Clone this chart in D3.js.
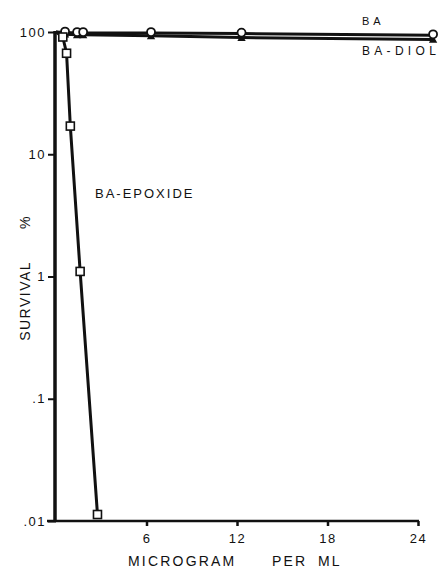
<!DOCTYPE html>
<html>
<head>
<meta charset="utf-8">
<script src="https://cdn.jsdelivr.net/npm/d3@7"></script>
<style>
  body { margin: 0; background: #fff; }
  text { font-family: "Liberation Sans", Arial, sans-serif; fill: #111; }
</style>
</head>
<body>
<div id="chart"></div>
<script>
var width = 445, height = 578;

// data (dose in microgram per ml, survival in %)
var baDose   = [0, 0.6, 1.4, 1.8, 6.3, 12.3, 25];
var baSurv   = [100, 99, 98, 98, 98, 97, 94];
var diolDose = [0, 0.6, 1.4, 1.8, 6.3, 12.3, 25];
var diolSurv = [100, 96, 95, 95, 93, 90, 87];
var epoDose  = [0, 0.45, 0.7, 0.95, 1.6, 2.75];
var epoSurv  = [100, 91, 67, 17, 1.1, 0.0113];

var xTicks = [6, 12, 18, 24];
var yTicks = [100, 10, 1, 0.1, 0.01];
var yTickLabels = ['100', '10', '1', '.1', '.01'];

var svg = d3.select('#chart').append('svg')
  .attr('width', width)
  .attr('height', height);

var x = d3.scaleLinear().domain([0, 24]).range([56, 418]);
var y = d3.scaleLog().domain([0.01, 100]).range([521, 32]);

// axes
var xAxis = d3.axisBottom(x)
  .tickValues(xTicks)
  .tickSize(5)
  .tickPadding(8)
  .tickSizeOuter(0);

var gx = svg.append('g')
  .attr('transform', 'translate(0,' + y(0.01) + ')')
  .call(xAxis);
gx.select('.domain').remove();
gx.selectAll('line').attr('stroke', '#111').attr('stroke-width', 2.5);
gx.selectAll('text')
  .style('font-size', '13px')
  .style('letter-spacing', '1.5px');

svg.append('line')
  .attr('x1', 47).attr('x2', x(24) + 1)
  .attr('y1', y(0.01)).attr('y2', y(0.01))
  .attr('stroke', '#111').attr('stroke-width', 2.5);

var yAxis = d3.axisLeft(y)
  .tickValues(yTicks)
  .tickFormat(function(d, i) { return yTickLabels[i]; })
  .tickSize(8)
  .tickPadding(2)
  .tickSizeOuter(0);

var gy = svg.append('g')
  .attr('transform', 'translate(' + x(0) + ',0)')
  .call(yAxis);
gy.select('.domain').remove();
gy.selectAll('line').attr('stroke', '#111').attr('stroke-width', 2);
gy.selectAll('text')
  .style('font-size', '13px')
  .style('letter-spacing', '1.5px');

svg.append('line')
  .attr('x1', x(0) - 1).attr('x2', x(0) - 1)
  .attr('y1', y(100) - 1).attr('y2', y(0.01) + 1)
  .attr('stroke', '#111').attr('stroke-width', 3.5);

// lines
var line = d3.line()
  .x(function(d) { return x(d[0]); })
  .y(function(d) { return y(d[1]); });

var baData = d3.zip(baDose, baSurv);
var diolData = d3.zip(diolDose, diolSurv);
var epoData = d3.zip(epoDose, epoSurv);

[diolData, baData, epoData].forEach(function(data) {
  svg.append('path')
    .datum(data)
    .attr('d', line)
    .attr('fill', 'none')
    .attr('stroke', '#111')
    .attr('stroke-width', 3);
});

// markers
svg.selectAll('.tri')
  .data(diolData.slice(1))
  .enter().append('path')
  .attr('class', 'tri')
  .attr('transform', function(d) { return 'translate(' + x(d[0]) + ',' + (y(d[1]) + 1) + ')'; })
  .attr('d', d3.symbol().type(d3.symbolTriangle).size(30))
  .attr('fill', '#111');

svg.selectAll('.circ')
  .data(baData.slice(1))
  .enter().append('circle')
  .attr('class', 'circ')
  .attr('cx', function(d) { return x(d[0]); })
  .attr('cy', function(d) { return y(d[1]) - 1; })
  .attr('r', 4)
  .attr('fill', '#fff')
  .attr('stroke', '#111')
  .attr('stroke-width', 1.8);

svg.selectAll('.sq')
  .data(epoData.slice(1))
  .enter().append('rect')
  .attr('class', 'sq')
  .attr('x', function(d) { return x(d[0]) - 4; })
  .attr('y', function(d) { return y(d[1]) - 4; })
  .attr('width', 8)
  .attr('height', 8)
  .attr('fill', '#fff')
  .attr('stroke', '#111')
  .attr('stroke-width', 1.6);

// labels
svg.append('text')
  .attr('x', 362).attr('y', 25)
  .style('font-size', '11px').style('letter-spacing', '4px')
  .text('BA');

svg.append('text')
  .attr('x', 362).attr('y', 55)
  .style('font-size', '12px').style('letter-spacing', '4.3px')
  .text('BA-DIOL');

svg.append('text')
  .attr('x', 95).attr('y', 198)
  .style('font-size', '13px').style('letter-spacing', '2px')
  .text('BA-EPOXIDE');

var xTitle = [['MICROGRAM', 128], ['PER', 272], ['ML', 318]];
svg.selectAll('.xtitle')
  .data(xTitle)
  .enter().append('text')
  .attr('class', 'xtitle')
  .attr('x', function(d) { return d[1]; })
  .attr('y', 566)
  .style('font-size', '14px')
  .style('letter-spacing', '2.2px')
  .text(function(d) { return d[0]; });

svg.append('text')
  .attr('transform', 'translate(30,278) rotate(-90)')
  .attr('text-anchor', 'middle')
  .style('font-size', '14px')
  .style('letter-spacing', '1.5px')
  .style('white-space', 'pre')
  .text('SURVIVAL      %');
</script>
</body>
</html>
